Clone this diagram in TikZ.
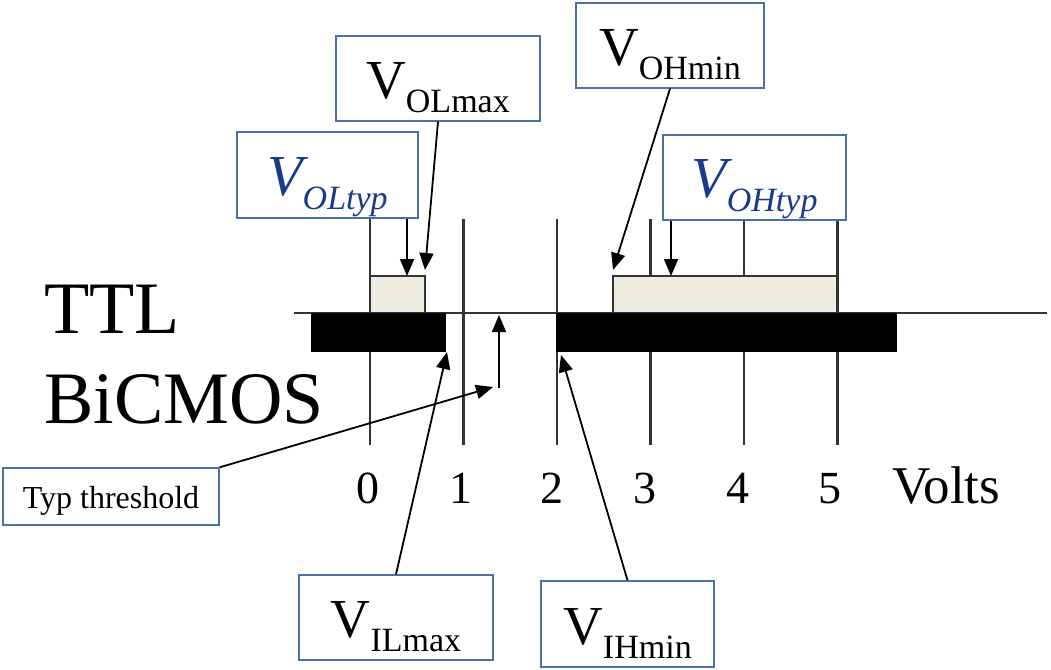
\documentclass[tikz,border=0pt]{standalone}
\usepackage{fontspec}
\setmainfont{Liberation Serif}
\usetikzlibrary{arrows.meta}

\definecolor{boxblue}{HTML}{4A6FA8}
\definecolor{typblue}{HTML}{1A3A8A}
\definecolor{lowfill}{HTML}{EEECE1}
\definecolor{tickgray}{HTML}{333333}

% label with a lowered subscript, upright and italic
\newcommand{\vname}[1]{{\fontsize{55}{55}\selectfont V}\raisebox{-14pt}{\fontsize{34}{34}\selectfont #1}}
\newcommand{\vtyp}[1]{\color{typblue}\itshape{\fontsize{58}{58}\selectfont V}\raisebox{-14pt}{\fontsize{34}{34}\selectfont #1}}

\tikzset{
  vbox/.style={draw=boxblue, line width=1.4pt, fill=white, inner sep=0pt,
    text height=41pt, text depth=1pt},
  ptr/.style={line width=1.8pt, -{Triangle[length=17pt,width=14pt]}},
  tickline/.style={draw=tickgray, line width=2.8pt},
  levelbox/.style={draw=tickgray, line width=2.2pt, fill=lowfill}
}

\begin{document}
\begin{tikzpicture}[x=1pt,y=-1pt]
    \useasboundingbox (0,0) rectangle (1051,669);

    % Tick lines for 0 ... 5 volts
    \draw[tickline] (370,219) -- (370,445);
    \draw[tickline] (463.5,219) -- (463.5,445);
    \draw[tickline] (557,219) -- (557,445);
    \draw[tickline] (650.5,219) -- (650.5,445);
    \draw[tickline] (744,219) -- (744,445);
    \draw[tickline] (837.5,219) -- (837.5,445);

    % Output levels (TTL)
    \draw[levelbox] (370,313) rectangle (425,276);
    \draw[levelbox] (613,313) rectangle (837.5,276);

    % Axis
    \draw[tickline, line width=2.2pt] (294,313) -- (1047,313);

    % Input levels (BiCMOS)
    \fill[black] (311,313) rectangle (446,352);
    \fill[black] (556,313) rectangle (897,352);

    % Scale numbers
    \node[anchor=base, font=\fontsize{46}{46}\selectfont] (n0) at (368,503) {0};
    \node[anchor=base, font=\fontsize{46}{46}\selectfont] (n1) at (461,503) {1};
    \node[anchor=base, font=\fontsize{46}{46}\selectfont] (n2) at (552,503) {2};
    \node[anchor=base, font=\fontsize{46}{46}\selectfont] (n3) at (645,503) {3};
    \node[anchor=base, font=\fontsize{46}{46}\selectfont] (n4) at (738,503) {4};
    \node[anchor=base, font=\fontsize{46}{46}\selectfont] (n5) at (830,503) {5};
    \node[anchor=base west, inner sep=0pt, font=\fontsize{53}{53}\selectfont] (volts) at (892,503) {Volts};

    % Family names
    \node[anchor=base west, inner sep=0pt, font=\fontsize{74}{74}\selectfont] (ttl) at (44,333) {TTL};
    \node[anchor=base west, inner sep=0pt, font=\fontsize{74}{74}\selectfont] (bicmos) at (44,423) {BiCMOS};

    % Label boxes
    \node[vbox, minimum width=204, minimum height=85] (olmax) at (438,78.5) {\vname{OLmax}};
    \node[vbox, minimum width=181, minimum height=86] (oltyp) at (327.5,175) {\vtyp{OLtyp}};
    \node[vbox, minimum width=188, minimum height=85] (ohmin) at (670,45.5) {\vname{OHmin}};
    \node[vbox, minimum width=183, minimum height=85] (ohtyp) at (754.5,177.5) {\vtyp{OHtyp}};
    \node[vbox, minimum width=194, minimum height=85] (ilmax) at (396,617.5) {\vname{ILmax}};
    \node[vbox, minimum width=173, minimum height=86] (ihmin) at (627.5,624) {\vname{IHmin}};
    \node[vbox, minimum width=216, minimum height=57, text height=23pt, text depth=0pt,
      font=\fontsize{32}{32}\selectfont] (typ) at (111,496.5) {Typ threshold};

    % Arrow tips
    \coordinate (olmaxTip) at (425,270);
    \coordinate (oltypTip) at (407,276);
    \coordinate (ohminTip) at (613,270);
    \coordinate (ohtypTip) at (671,276);
    \coordinate (ilmaxTip) at (447,352);
    \coordinate (ihminTip) at (561,355);
    \coordinate (typTip) at (493,387);
    \coordinate (thrFoot) at (499,388);
    \coordinate (thrTip) at (499,315);

    % Pointers
    \draw[ptr] (olmax.south) -- (olmaxTip);
    \draw[ptr] (oltyp.south -| oltypTip) -- (oltypTip);
    \draw[ptr] (ohmin.south) -- (ohminTip);
    \draw[ptr] (ohtyp.south -| ohtypTip) -- (ohtypTip);
    \draw[ptr] (ilmax.north) -- (ilmaxTip);
    \draw[ptr] (ihmin.north) -- (ihminTip);
    \draw[ptr] (typ.north east) -- (typTip);
    \draw[ptr] (thrFoot) -- (thrTip);

\end{tikzpicture}
\end{document}
